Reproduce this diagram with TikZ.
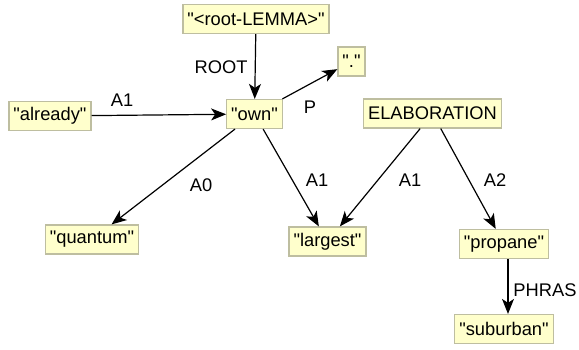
\documentclass[tikz,border=0pt]{standalone}
\usepackage{fontspec}
\setmainfont{Liberation Sans}[Ligatures=TeXOff]
\usetikzlibrary{arrows.meta}

\definecolor{boxfill}{RGB}{255,255,204}
\definecolor{boxline}{RGB}{190,190,160}

\tikzset{
  word/.style={draw=boxline, fill=boxfill, line width=1.2pt, inner xsep=4.5pt,
    inner ysep=0pt, minimum height=29pt, font=\fontsize{18.3}{20}\selectfont},
  rel/.style={inner sep=0pt, font=\fontsize{18.3}{20}\selectfont},
  dep/.style={line width=1.2pt, -{Stealth[length=15pt, width=12pt, inset=4pt]}}
}

\begin{document}
\begin{tikzpicture}[x=1pt, y=-1pt]
			\useasboundingbox (0,0) rectangle (579,349);
			% word boxes
			\node[word] (root) at (256,19) {"<root-LEMMA>"};
			\node[word] (own) at (254.5,114) {"own"};
			\node[word] (dot) at (351.5,61.5) {"."};
			\node[word] (already) at (50,116) {"already"};
			\node[word] (elab) at (432.5,113.5) {ELABORATION};
			\node[word] (quantum) at (92,239.5) {"quantum"};
			\node[word] (largest) at (327.5,241.5) {"largest"};
			\node[word] (propane) at (504,244) {"propane"};
			\node[word] (suburban) at (504,329) {"suburban"};
			
			% dependencies
			\draw[dep] (root) -- (own);
			\draw[dep] (already) -- (own);
			\draw[dep] (own) -- (dot);
			\draw[dep] (own) -- (quantum);
			\draw[dep] (own) -- (largest);
			\draw[dep] (elab) -- (largest);
			\draw[dep] (elab) -- (propane);
			\draw[dep] ([xshift=4pt]propane.south) -- ([xshift=4pt]suburban.north);
			
			% relation labels
			\node[rel] (lroot) at (221,67) {ROOT};
			\node[rel] (lalready) at (122,100) {A1};
			\node[rel] (ldot) at (310,107) {P};
			\node[rel] (lquantum) at (201,185) {A0};
			\node[rel] (llargest) at (317,180) {A1};
			\node[rel] (lelab) at (410,180) {A1};
			\node[rel] (lpropane) at (495,180) {A2};
			\node[rel] (lsuburban) at (545,290) {PHRAS};
		\end{tikzpicture}
\end{document}
